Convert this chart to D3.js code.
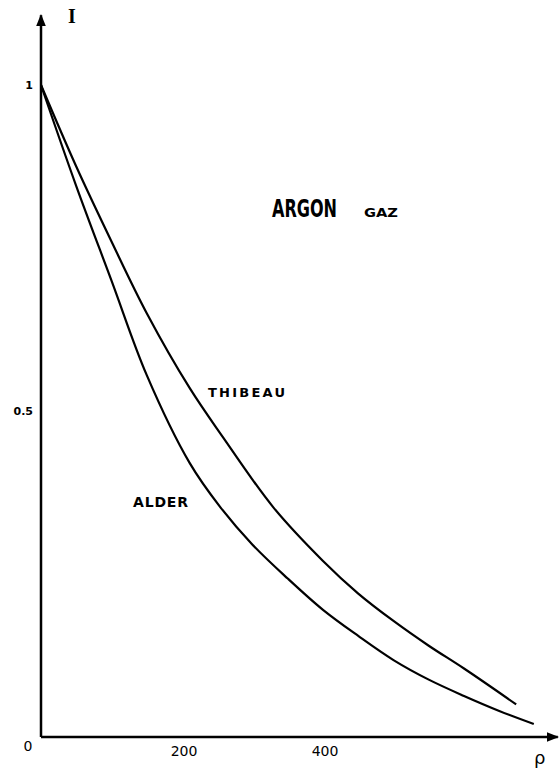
<!DOCTYPE html>
<html>
<head>
<meta charset="utf-8">
<script src="https://cdn.jsdelivr.net/npm/d3@7"></script>
<style>
  body { margin: 0; background: #fff; }
  svg text { font-family: "DejaVu Sans", sans-serif; fill: #000; }
</style>
</head>
<body>
<div id="main"></div>
<script>
const width = 560;
const height = 771;

// density values (rho) and intensity I for each curve
const alderRho = [0, 50, 100, 150, 211, 254, 300, 350, 400, 450, 500, 550, 600, 650, 699];
const alderI = [1.0, 0.845, 0.7, 0.555, 0.42, 0.353, 0.295, 0.243, 0.195, 0.155, 0.118, 0.088, 0.063, 0.04, 0.02];

const thibeauRho = [0, 50, 100, 150, 211, 258, 329, 400, 450, 500, 550, 600, 674];
const thibeauI = [1.0, 0.875, 0.76, 0.65, 0.535, 0.46, 0.353, 0.27, 0.22, 0.178, 0.14, 0.105, 0.05];

const xTicks = [200, 400];
const yTicks = [1, 0.5];
const yTickLabels = ["1", "0.5"];

const x = d3.scaleLinear().domain([0, 700]).range([41, 534.5]);
const y = d3.scaleLinear().domain([0, 1]).range([737, 85]);

const svg = d3.select("#main").append("svg").attr("width", width).attr("height", height);

svg
  .append("defs")
  .append("marker")
  .attr("id", "arrow")
  .attr("viewBox", "0 0 10 10")
  .attr("refX", 9)
  .attr("refY", 5)
  .attr("markerWidth", 5)
  .attr("markerHeight", 5)
  .attr("markerUnits", "strokeWidth")
  .attr("orient", "auto")
  .append("path")
  .attr("d", "M0,1 L10,5 L0,9 Z")
  .attr("fill", "#000");

// axes
svg
  .append("line")
  .attr("x1", x(0))
  .attr("y1", y(0))
  .attr("x2", x(733))
  .attr("y2", y(0))
  .attr("stroke", "#000")
  .attr("stroke-width", 2.5)
  .attr("marker-end", "url(#arrow)");

svg
  .append("line")
  .attr("x1", x(0))
  .attr("y1", y(0))
  .attr("x2", x(0))
  .attr("y2", y(1.107))
  .attr("stroke", "#000")
  .attr("stroke-width", 2.5)
  .attr("marker-end", "url(#arrow)");

svg
  .selectAll(".xtick")
  .data(xTicks)
  .enter()
  .append("text")
  .attr("class", "xtick")
  .attr("x", (d) => x(d) + 2)
  .attr("y", 756)
  .attr("text-anchor", "middle")
  .style("font-size", "14px")
  .text((d) => d);

svg
  .selectAll(".ytick")
  .data(yTicks)
  .enter()
  .append("text")
  .attr("class", "ytick")
  .attr("x", 33)
  .attr("y", (d) => y(d) + 4)
  .attr("text-anchor", "end")
  .style("font-size", "11px")
  .style("font-weight", "bold")
  .text((d, i) => yTickLabels[i]);

svg
  .append("text")
  .attr("x", 28)
  .attr("y", 751)
  .attr("text-anchor", "middle")
  .style("font-size", "14px")
  .text("0");

svg
  .append("text")
  .attr("x", 72)
  .attr("y", 23)
  .attr("text-anchor", "middle")
  .style("font-size", "20px")
  .style("font-weight", "bold")
  .style("font-family", "Liberation Serif, serif")
  .text("I");

svg
  .append("text")
  .attr("x", 534)
  .attr("y", 764)
  .style("font-size", "18px")
  .text("ρ");

// curves
const line = d3
  .line()
  .x((d) => x(d[0]))
  .y((d) => y(d[1]))
  .curve(d3.curveCatmullRom.alpha(0.5));

const alder = alderRho.map((r, i) => [r, alderI[i]]);
const thibeau = thibeauRho.map((r, i) => [r, thibeauI[i]]);

svg
  .append("path")
  .datum(alder)
  .attr("d", line)
  .attr("fill", "none")
  .attr("stroke", "#000")
  .attr("stroke-width", 2.2);

svg
  .append("path")
  .datum(thibeau)
  .attr("d", line)
  .attr("fill", "none")
  .attr("stroke", "#000")
  .attr("stroke-width", 2.2);

// labels
svg
  .append("text")
  .attr("x", 272)
  .attr("y", 217)
  .attr("textLength", 65)
  .attr("lengthAdjust", "spacingAndGlyphs")
  .style("font-family", "'DejaVu Sans Condensed', 'DejaVu Sans', sans-serif")
  .style("font-stretch", "condensed")
  .style("font-weight", "bold")
  .style("font-size", "24px")
  .text("ARGON");

svg
  .append("text")
  .attr("x", 364)
  .attr("y", 217)
  .attr("textLength", 34)
  .attr("lengthAdjust", "spacingAndGlyphs")
  .style("font-weight", "bold")
  .style("font-size", "12px")
  .text("GAZ");

svg
  .append("text")
  .attr("x", 208)
  .attr("y", 397)
  .attr("textLength", 77)
  .attr("lengthAdjust", "spacing")
  .style("font-weight", "bold")
  .style("font-size", "13px")
  .text("THIBEAU");

svg
  .append("text")
  .attr("x", 133)
  .attr("y", 507)
  .attr("textLength", 55)
  .attr("lengthAdjust", "spacing")
  .style("font-weight", "bold")
  .style("font-size", "14px")
  .text("ALDER");
</script>
</body>
</html>
